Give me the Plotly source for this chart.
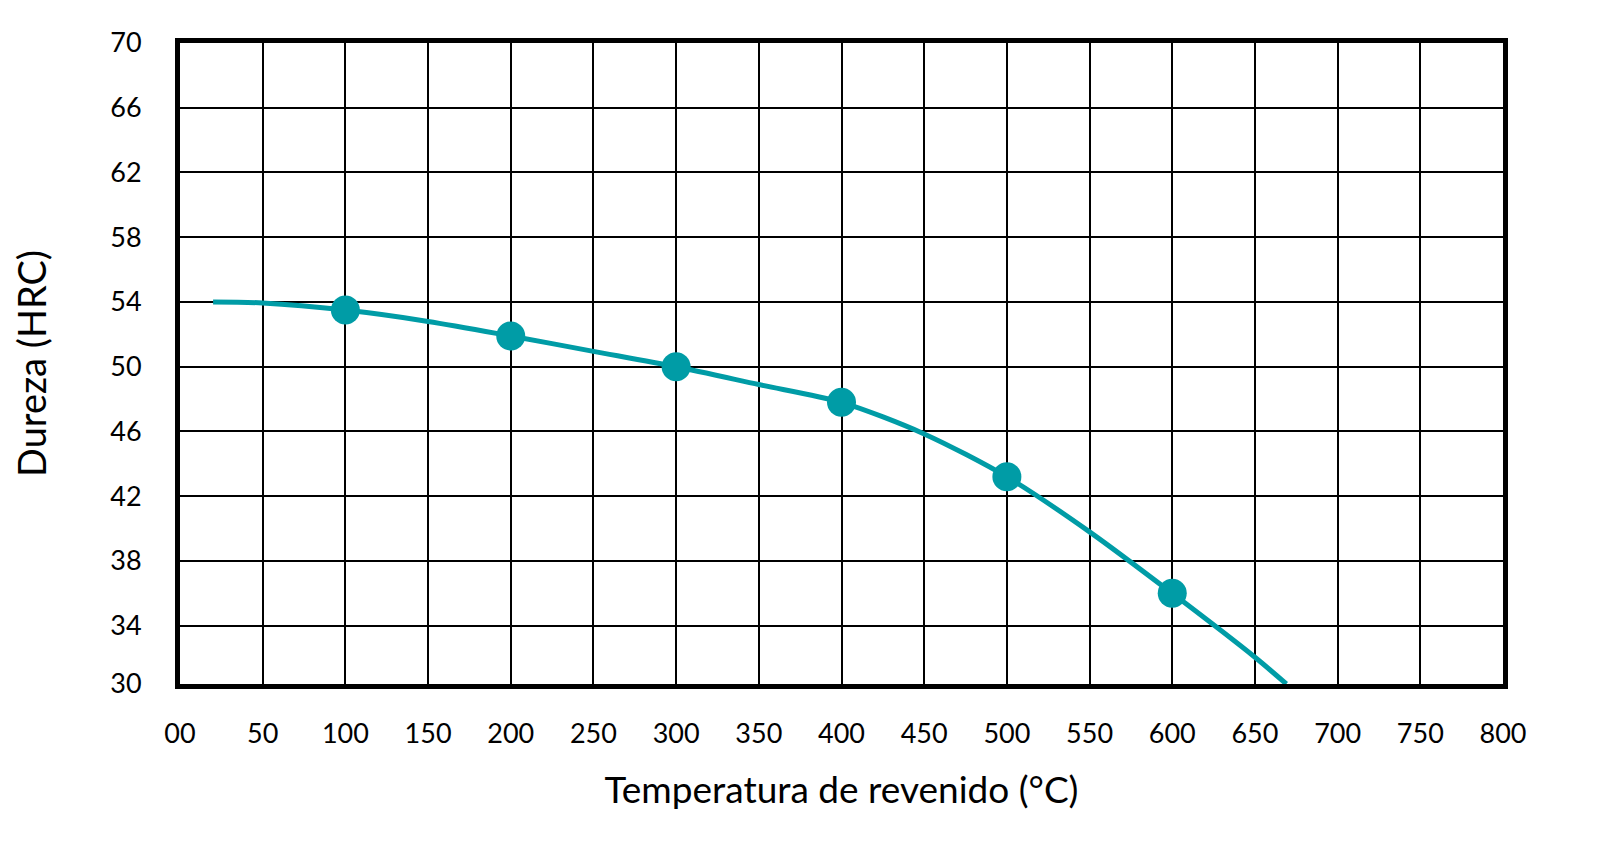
import plotly.graph_objects as go

# Curve
curve_temp = [20, 50, 100, 150, 200, 250, 300, 350, 400, 450, 500, 550, 600, 650, 669]
curve_hrc = [54.0, 53.94, 53.5, 52.8, 51.9, 50.95, 50.0, 48.9, 47.8, 45.85, 43.2, 39.8, 36.0, 32.05, 30.4]

# Measured points
point_temp = [100, 200, 300, 400, 500, 600]
point_hrc = [53.5, 51.9, 50.0, 47.8, 43.2, 36.0]

# Tick labels
x_tickvals = list(range(0, 801, 50))
x_ticktext = ["00"] + [str(v) for v in range(50, 801, 50)]
y_tickvals = [30.4, 34, 38, 42, 46, 50, 54, 58, 62, 66, 70]
y_ticktext = ["30", "34", "38", "42", "46", "50", "54", "58", "62", "66", "70"]

TEAL = "#009CA6"
FONT = "Lato"

fig = go.Figure()
fig.add_trace(go.Scatter(
    x=curve_temp, y=curve_hrc, mode="lines",
    line=dict(color=TEAL, width=5, shape="spline", smoothing=0.8),
    hoverinfo="skip", showlegend=False, cliponaxis=True,
))
fig.add_trace(go.Scatter(
    x=point_temp, y=point_hrc, mode="markers",
    marker=dict(color=TEAL, size=29, line=dict(width=0)),
    showlegend=False, cliponaxis=False,
))

fig.update_layout(
    width=1621, height=862, autosize=False,
    margin=dict(l=172, r=126, t=35, b=186),
    paper_bgcolor="white", plot_bgcolor="white",
    font=dict(family=FONT, color="black"),
)
fig.update_xaxes(
    range=[0, 800], tickvals=x_tickvals, ticktext=x_ticktext,
    showgrid=True, gridcolor="black", gridwidth=2,
    showline=True, linecolor="black", linewidth=5, mirror=True,
    ticks="", ticklabelstandoff=22, zeroline=False,
    tickfont=dict(size=27, family=FONT, color="black"),
    title=dict(text="Temperatura de revenido (°C)", font=dict(size=37, family=FONT, color="black"), standoff=30),
)
fig.update_yaxes(
    range=[30.4, 70], tickvals=y_tickvals, ticktext=y_ticktext,
    showgrid=True, gridcolor="black", gridwidth=2,
    showline=True, linecolor="black", linewidth=5, mirror=True,
    ticks="", ticklabelstandoff=28, zeroline=False,
    tickfont=dict(size=27, family=FONT, color="black"),
    title=dict(text="Dureza (HRC)", font=dict(size=38, family=FONT, color="black"), standoff=55),
)

fig.write_html("out.html")
